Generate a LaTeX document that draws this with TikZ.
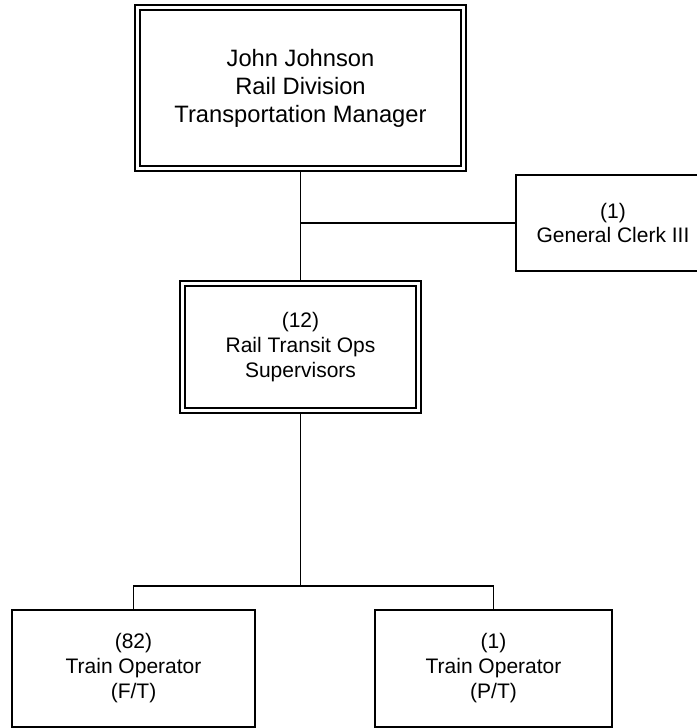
\documentclass[tikz,border=0pt]{standalone}
\usepackage{fontspec}
\setmainfont{Liberation Sans}
\begin{document}
\begin{tikzpicture}[x=1pt,y=-1pt,
  box/.style={draw, line width=1.3pt, inner sep=0pt, outer sep=0pt, align=center,
    font=\fontsize{21}{25}\selectfont},
  dbox/.style={draw, line width=1.2pt, double, double distance=3.8pt, inner sep=0pt,
    outer sep=3.1pt, align=center},
  conn/.style={line width=1.3pt}]
\useasboundingbox (0,0) rectangle (696,728);

\node[dbox, minimum width=326pt, minimum height=161pt, font=\fontsize{23.7}{28}\selectfont]
  (top) at (300.5,88) {John Johnson\\Rail Division\\Transportation Manager};
\node[dbox, minimum width=236pt, minimum height=127pt, font=\fontsize{21}{25}\selectfont]
  (mid) at (300.5,347) {(12)\\Rail Transit Ops\\Supervisors};
\node[box, minimum width=194pt, minimum height=96pt, font=\fontsize{21}{24}\selectfont]
  (clerk) at (613,223) {(1)\\General Clerk III};
\node[box, minimum width=243pt, minimum height=117pt]
  (fto) at (133.5,668.5) {(82)\\Train Operator\\(F/T)};
\node[box, minimum width=237pt, minimum height=117pt]
  (pto) at (493.5,668.5) {(1)\\Train Operator\\(P/T)};

\coordinate (bj) at (300.5,586);
\draw[conn] (top.south) -- (mid.north);
\draw[conn] (top.south |- clerk.west) -- (clerk.west);
\draw[conn] (mid.south) -- (bj);
\draw[conn] (fto.north) |- (bj) -| (pto.north);
\end{tikzpicture}
\end{document}
